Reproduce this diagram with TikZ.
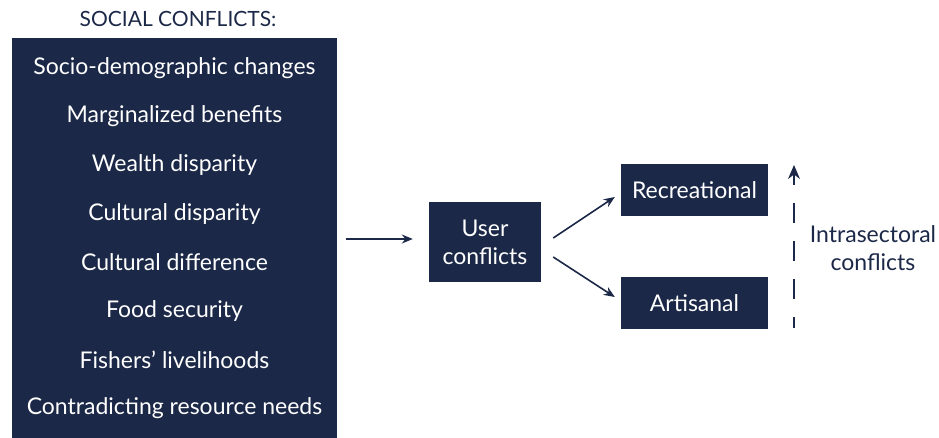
\documentclass[tikz,border=0pt]{standalone}
\usepackage{fontspec}
\setmainfont{Lato}
\usetikzlibrary{arrows.meta}

\definecolor{navy}{HTML}{1B2847}

\tikzset{
	darkbox/.style={fill=navy, text=white, inner sep=0pt},
	item/.style={text=white, font=\fontsize{23}{28}\selectfont},
	link/.style={draw=navy, line width=1.6pt, -{Stealth[length=11pt,width=9pt]}}
}

\begin{document}
\begin{tikzpicture}[x=1pt, y=-1pt]
	\useasboundingbox (0,0) rectangle (939,437);

	% left block with its list of causes
	\node [font=\fontsize{21}{25}\selectfont, text=navy] (title) at (178,19) {SOCIAL CONFLICTS:};
	\node [darkbox, minimum width=325pt, minimum height=400pt] (social) at (174.5,238) {};
	\foreach \txt [count=\i] in {Socio-demographic changes, Marginalized benefits,
		Wealth disparity, Cultural disparity, Cultural difference, Food security,
		Fishers’ livelihoods, Contradicting resource needs}
		\node [item] (cause\i) at (174.5,{68+48.6*(\i-1)}) {\txt};

	% middle and right boxes
	\node [darkbox, item, minimum width=112pt, minimum height=80pt, align=center] (user) at (485,242)
		{User\\conflicts};
	\node [darkbox, item, minimum width=147pt, minimum height=52pt] (recr) at (694.5,190) {Recreational};
	\node [darkbox, item, minimum width=147pt, minimum height=52pt] (artis) at (694.5,303) {Artisanal};

	\draw [link, shorten <=9pt, shorten >=16pt] (social.east |- 0,239) -- (user.west |- 0,239);
	\draw [link] ([xshift=12pt,yshift=4pt]user.east) -- ([xshift=-6pt,yshift=-7pt]recr.west);
	\draw [link] ([xshift=12pt,yshift=-15pt]user.east) -- ([xshift=-6pt,yshift=6pt]artis.west);

	% dashed arrow for the intrasectoral side
	\coordinate (dbot) at (794,328);
	\coordinate (dtop) at (794,165);
	\draw [draw=navy, line width=1.3pt, dash pattern=on 20pt off 18pt, dash phase=9pt,
		-{Stealth[length=14pt,width=12pt]}] (dbot) -- (dtop);
	\node [text=navy, font=\fontsize{23}{28}\selectfont, align=center] (intra) at (873,248)
		{Intrasectoral\\conflicts};
\end{tikzpicture}
\end{document}
